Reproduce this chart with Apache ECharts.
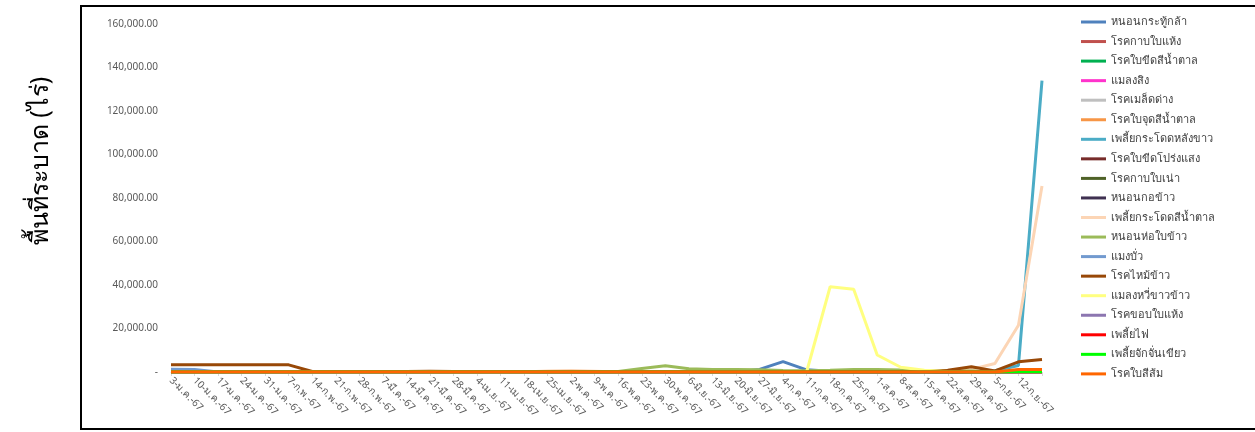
<!DOCTYPE html>
<html>
<head>
<meta charset="utf-8">
<script src="https://cdn.jsdelivr.net/npm/echarts@6/dist/echarts.min.js"></script>
<style>
html,body{margin:0;padding:0;background:#fff;}
#c{width:1255px;height:432px;}
</style>
</head>
<body>
<div id="c"></div>
<script>
var categories = ['3-ม.ค.-67','10-ม.ค.-67','17-ม.ค.-67','24-ม.ค.-67','31-ม.ค.-67','7-ก.พ.-67','14-ก.พ.-67','21-ก.พ.-67','28-ก.พ.-67','7-มี.ค.-67','14-มี.ค.-67','21-มี.ค.-67','28-มี.ค.-67','4-เม.ย.-67','11-เม.ย.-67','18-เม.ย.-67','25-เม.ย.-67','2-พ.ค.-67','9-พ.ค.-67','16-พ.ค.-67','23-พ.ค.-67','30-พ.ค.-67','6-มิ.ย.-67','13-มิ.ย.-67','20-มิ.ย.-67','27-มิ.ย.-67','4-ก.ค.-67','11-ก.ค.-67','18-ก.ค.-67','25-ก.ค.-67','1-ส.ค.-67','8-ส.ค.-67','15-ส.ค.-67','22-ส.ค.-67','29-ส.ค.-67','5-ก.ย.-67','12-ก.ย.-67',''];

var yTicks = [0, 20000, 40000, 60000, 80000, 100000, 120000, 140000, 160000];

var s_armyworm     = [0,0,0,0,0,0,0,0,0,0, 0,0,0,0,0,0,0,0,0,0, 0,0,0,0,0,1200,4800,1000,300,0, 0,0,0,0,0,0,0,0];
var s_sheathBlight = [0,0,0,0,0,0,0,0,0,0, 0,0,0,0,0,0,0,0,0,0, 0,0,0,0,0,0,0,0,0,0, 0,0,0,0,0,0,0,0];
var s_narrowBrown  = [0,0,0,0,0,0,0,0,0,0, 0,0,0,0,0,0,0,0,0,0, 0,0,0,0,0,0,0,0,0,0, 0,0,0,0,0,0,0,0];
var s_riceBug      = [0,0,0,0,0,0,0,0,0,0, 0,0,0,0,0,0,0,0,0,0, 0,0,0,0,0,0,0,0,0,0, 0,0,0,0,0,0,0,0];
var s_dirtyPanicle = [0,0,0,0,0,0,0,0,0,0, 0,0,0,0,0,0,0,0,0,0, 0,0,0,0,0,0,0,0,0,0, 0,0,0,0,0,0,0,0];
var s_brownSpot    = [0,0,0,0,0,0,0,0,0,0, 0,0,0,0,0,0,0,0,0,0, 0,0,0,0,0,0,0,0,0,0, 0,0,0,0,0,0,0,0];
var s_wbph         = [0,0,0,0,0,0,0,0,0,0, 0,0,0,0,0,0,0,0,0,0, 0,0,0,0,0,0,0,0,0,0, 0,0,0,0,0,600,3000,134000];
var s_bls          = [0,0,0,0,0,0,0,0,0,0, 0,0,0,0,0,0,0,0,0,0, 0,0,0,0,0,0,0,0,0,0, 0,0,0,0,0,0,0,0];
var s_sheathRot    = [0,0,0,0,0,0,0,0,0,0, 0,0,0,0,0,0,0,0,0,0, 0,0,0,0,0,0,0,0,0,0, 0,0,0,0,0,0,0,0];
var s_stemBorer    = [0,0,0,0,0,0,0,0,0,0, 0,0,0,0,0,0,0,0,0,0, 0,0,0,0,0,0,0,0,0,0, 0,0,0,0,0,0,0,0];
var s_bph          = [0,0,0,0,0,0,0,0,0,0, 0,0,0,0,0,0,500,700,400,0, 0,0,0,0,0,0,0,0,0,0, 0,0,0,500,1200,3900,21500,85500];
var s_leafFolder   = [0,0,0,0,0,0,0,0,0,0, 0,0,0,0,0,0,0,0,0,200, 1600,2900,1500,1200,1200,1000,700,600,800,1200, 1200,900,400,300,500,0,0,0];
var s_gallMidge    = [1300,1200,0,0,0,0,0,0,0,0, 0,0,0,0,0,0,0,0,0,0, 0,0,0,0,0,0,0,0,0,0, 0,0,0,0,0,0,0,0];
var s_blast        = [3300,3300,3300,3300,3300,3300,200,200,200,200, 200,400,200,200,200,200,200,200,200,200, 200,200,200,200,200,200,200,200,200,200, 200,200,200,800,2400,500,4700,5800];
var s_whitefly     = [0,0,0,0,0,0,0,0,0,0, 0,0,0,0,0,0,0,0,0,0, 0,0,0,0,0,0,0,0,39200,38000, 7800,2200,800,200,0,0,0,0];
var s_blb          = [0,0,0,0,0,0,0,0,0,0, 0,0,0,0,0,0,0,0,0,0, 0,0,0,0,0,0,0,0,0,0, 0,0,0,0,0,0,0,0];
var s_thrips       = [0,0,0,0,0,0,0,0,0,0, 0,0,0,0,0,0,0,0,0,0, 0,0,0,0,0,0,0,0,0,0, 0,0,0,0,0,0,0,0];
var s_glh          = [0,0,0,0,0,0,0,0,0,0, 0,0,0,0,0,0,0,0,0,0, 0,0,0,0,0,0,0,0,0,0, 0,0,0,0,0,0,150,150];
var s_orangeLeaf   = [0,0,0,0,0,0,0,0,0,0, 0,0,0,0,0,0,0,0,0,0, 0,0,0,0,0,0,0,0,0,0, 0,0,0,0,0,0,1200,1200];

var seriesNames = ['หนอนกระทู้กล้า','โรคกาบใบแห้ง','โรคใบขีดสีน้ำตาล','แมลงสิง','โรคเมล็ดด่าง','โรคใบจุดสีน้ำตาล','เพลี้ยกระโดดหลังขาว','โรคใบขีดโปร่งแสง','โรคกาบใบเน่า','หนอนกอข้าว','เพลี้ยกระโดดสีน้ำตาล','หนอนห่อใบข้าว','แมงบั่ว','โรคไหม้ข้าว','แมลงหวี่ขาวข้าว','โรคขอบใบแห้ง','เพลี้ยไฟ','เพลี้ยจักจั่นเขียว','โรคใบสีส้ม'];
var seriesData = [s_armyworm,s_sheathBlight,s_narrowBrown,s_riceBug,s_dirtyPanicle,s_brownSpot,s_wbph,s_bls,s_sheathRot,s_stemBorer,s_bph,s_leafFolder,s_gallMidge,s_blast,s_whitefly,s_blb,s_thrips,s_glh,s_orangeLeaf];
var seriesColors = ['#4F81BD','#C0504D','#00B050','#FF33CC','#BFBFBF','#F79646','#4BACC6','#772C2A','#4F6228','#3F3151','#FCD5B5','#9BBB59','#729ACF','#984807','#FFFF80','#8C76B0','#FF0000','#00FF00','#FF6600'];

var FONT = '"Noto Sans", "DejaVu Sans", sans-serif';

var series = seriesNames.map(function(n, i){
  return {
    name: n, type: 'line', data: seriesData[i],
    symbol: 'none', smooth: false, z: 2 + i,
    lineStyle: {color: seriesColors[i], width: 3},
    itemStyle: {color: seriesColors[i]},
    emphasis: {disabled: true}
  };
});

var chart = echarts.init(document.getElementById('c'), null, {renderer: 'canvas'});
chart.setOption({
  animation: false,
  backgroundColor: '#fff',
  textStyle: {fontFamily: FONT},
  grid: {left: 171, right: 213, top: 24, bottom: 60, containLabel: false},
  xAxis: {
    type: 'category', data: categories, boundaryGap: false,
    axisLine: {show: true, lineStyle: {color: '#D9D9D9'}},
    axisTick: {show: true, length: 4, alignWithLabel: true, lineStyle: {color: '#D9D9D9'}},
    axisLabel: {interval: 0, rotate: -45, margin: 7, fontSize: 10, color: '#595959', fontFamily: FONT},
    splitLine: {show: false}
  },
  yAxis: {
    type: 'value', min: yTicks[0], max: yTicks[yTicks.length-1], interval: 20000,
    axisLine: {show: false}, axisTick: {show: false}, splitLine: {show: false},
    axisLabel: {
      margin: 13, fontSize: 10, color: '#595959', fontFamily: FONT,
      formatter: function(v){ return v === 0 ? '-' : v.toLocaleString('en-US', {minimumFractionDigits: 2, maximumFractionDigits: 2}); }
    }
  },
  legend: {
    orient: 'vertical', left: 1076, top: 10,
    itemWidth: 25, itemHeight: 3, itemGap: 5.55, icon: 'rect',
    textStyle: {fontSize: 11, color: '#404040', lineHeight: 14, fontFamily: FONT},
    data: seriesNames
  },
  graphic: [
    {type: 'rect', shape: {x: 81, y: 6, width: 1190, height: 423}, style: {fill: 'none', stroke: '#000', lineWidth: 2}, z: 100, silent: true},
    {type: 'text', x: 41, y: 161, rotation: Math.PI/2, style: {text: 'พื้นที่ระบาด (ไร่)', fill: '#000', font: '25px ' + FONT, textAlign: 'center', textVerticalAlign: 'middle'}, z: 100}
  ],
  series: series
});
</script>
</body>
</html>
